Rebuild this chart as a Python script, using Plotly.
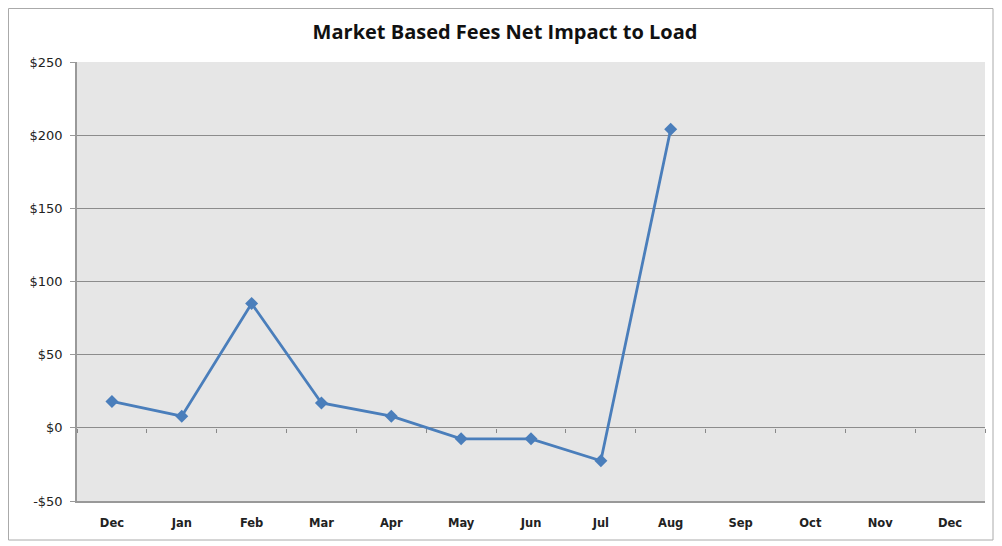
import plotly.graph_objects as go

months = ["Dec", "Jan", "Feb", "Mar", "Apr", "May", "Jun", "Jul", "Aug", "Sep", "Oct", "Nov", "Dec"]
values = [18, 8, 85, 17, 8, -7.5, -7.5, -22.5, 204]
y_ticks = [-50, 0, 50, 100, 150, 200, 250]
y_labels = ["-$50", "$0", "$50", "$100", "$150", "$200", "$250"]

xs = list(range(len(values)))

# page body has an 8px margin; compensate so the plot lands where the reference has it
OFF = 8
W, H = 1002, 546
L, R, T, B = 77 - OFF, W - (985 - OFF), 62 - OFF, H - (501 - OFF)
PW, PH = W - L - R, H - T - B

fig = go.Figure()
fig.add_trace(go.Scatter(
    x=xs, y=values, mode="lines+markers",
    line=dict(color="#4a7ebb", width=2.8),
    marker=dict(symbol="diamond", size=10, color="#4a7ebb"),
    showlegend=False, hoverinfo="y",
))
fig.add_trace(go.Scatter(x=[None], y=[None], xaxis="x2", showlegend=False))

fig.update_layout(
    width=W, height=H,
    margin=dict(l=L, r=R, t=T, b=B),
    paper_bgcolor="white",
    plot_bgcolor="#e6e6e6",
    title=dict(text="<b>Market Based Fees Net Impact to Load</b>", x=(505 - OFF) / W, xanchor="center",
               y=1 - (32 - OFF) / H, yanchor="middle",
               font=dict(family="Open Sans, Liberation Sans, sans-serif", size=20, color="#111")),
    xaxis=dict(range=[-0.5, 12.5], tickvals=list(range(len(months))),
               ticktext=["<b>%s</b>" % m for m in months],
               showgrid=False, zeroline=False, showline=True, linecolor="#999", linewidth=1.5,
               ticks="", tickfont=dict(family="DejaVu Sans, sans-serif", size=11.5, color="#222"),
               ticklabelstandoff=10),
    xaxis2=dict(range=[-0.5, 12.5], overlaying="x", anchor="free", position=50/300,
                tickvals=[i - 0.5 for i in range(len(months) + 1)], showticklabels=False,
                ticks="outside", ticklen=4, tickcolor="#888", showgrid=False, showline=False,
                zeroline=False),
    yaxis=dict(range=[-50, 250], tickvals=y_ticks, ticktext=y_labels,
               showgrid=True, gridcolor="#8c8c8c", gridwidth=1, zeroline=True,
               zerolinecolor="#8c8c8c", zerolinewidth=1,
               showline=True, linecolor="#999", linewidth=1.5, ticks="outside", ticklen=5,
               tickcolor="#999", ticklabelstandoff=5,
               tickfont=dict(family="DejaVu Sans, sans-serif", size=13, color="#222")),
    shapes=[dict(type="rect", xref="paper", yref="paper",
                 x0=(0.5 - L) / PW, x1=(993 - OFF - L) / PW,
                 y0=(H - B - (540 - OFF)) / PH, y1=(H - B - 0.5) / PH,
                 line=dict(color="#aaaaaa", width=1), fillcolor="rgba(0,0,0,0)", layer="below")],
)

fig.write_html("out.html")
